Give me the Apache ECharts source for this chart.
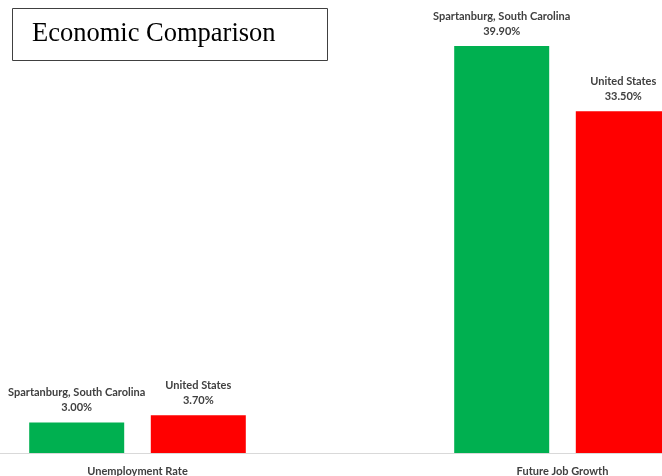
<!DOCTYPE html>
<html>
<head>
<meta charset="utf-8">
<script src="https://cdn.jsdelivr.net/npm/echarts@6/dist/echarts.min.js"></script>
<style>html,body{margin:0;padding:0;background:#fff}#c{width:662px;height:476px}</style>
</head>
<body>
<div id="c"></div>
<script>
const categories = ['Unemployment Rate', 'Future Job Growth'];
const spartanburg = [3.0, 39.9];
const unitedStates = [3.7, 33.5];
const seriesNames = ['Spartanburg, South Carolina', 'United States'];

const labelFont = "Lato, 'Open Sans', sans-serif";
const chart = echarts.init(document.getElementById('c'));
const mkLabel = {
  show: true,
  position: 'top',
  distance: 7,
  color: '#404040',
  fontWeight: 'bold',
  fontSize: 11,
  lineHeight: 15,
  fontFamily: labelFont,
  align: 'center',
  formatter: p => p.seriesName + '\n' + p.value.toFixed(2) + '%'
};
chart.setOption({
  animation: false,
  title: {
    text: 'Economic Comparison',
    left: 12, top: 8,
    padding: [13, 52, 13, 20],
    borderColor: '#404040', borderWidth: 1,
    textStyle: { fontFamily: "'Liberation Serif', serif", fontSize: 26.5, fontWeight: 'normal', color: '#000' }
  },
  grid: { left: -75, width: 850, top: 45, bottom: 23, outerBoundsMode: 'none', containLabel: false },
  xAxis: {
    type: 'category', data: categories,
    axisLine: { lineStyle: { color: '#d9d9d9' } },
    axisTick: { show: false },
    axisLabel: { color: '#404040', fontWeight: 'bold', fontSize: 11, fontFamily: labelFont, margin: 13 }
  },
  yAxis: { type: 'value', min: 0, max: 40, show: false, splitLine: { show: false } },
  series: [
    { name: seriesNames[0], type: 'bar', data: spartanburg, barWidth: 95, barGap: '28%', itemStyle: { color: '#00b050' }, label: mkLabel },
    { name: seriesNames[1], type: 'bar', data: unitedStates, barWidth: 95, barGap: '28%', itemStyle: { color: '#ff0000' }, label: mkLabel }
  ]
});
</script>
</body>
</html>
